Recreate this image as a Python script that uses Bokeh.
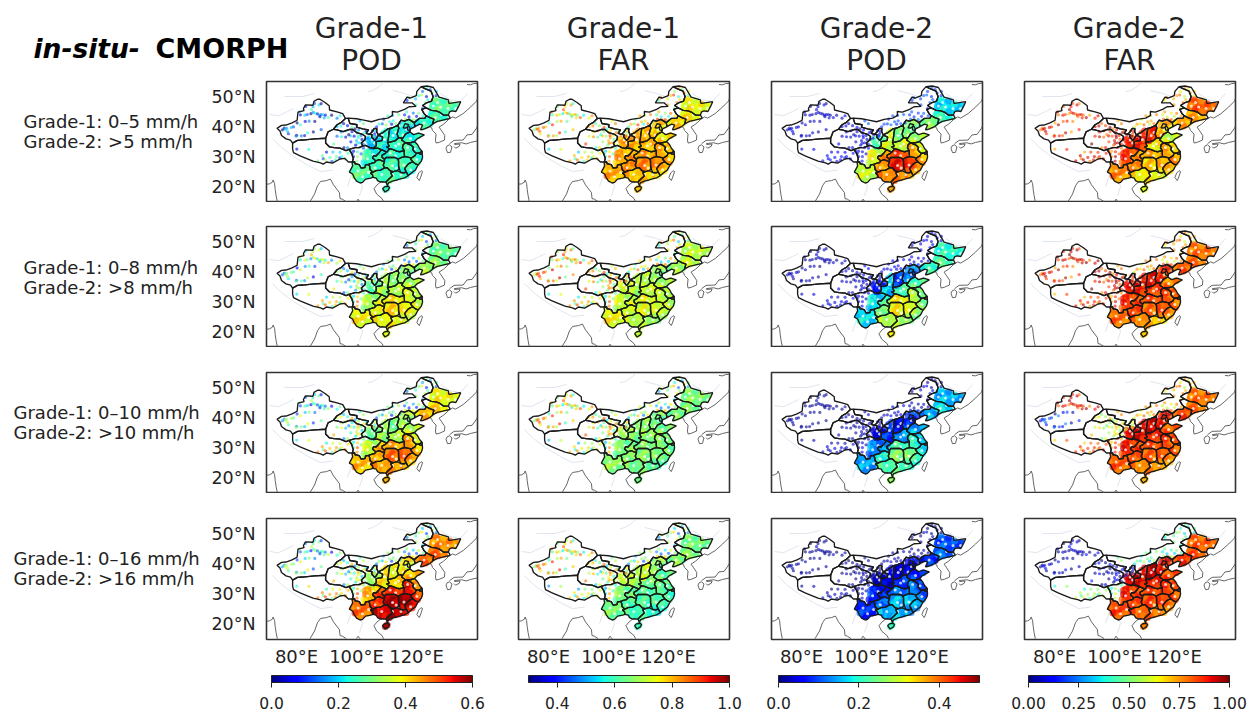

import numpy as np
from bokeh.plotting import figure
from bokeh.layouts import column, row
from bokeh.models import (ColumnDataSource, LinearColorMapper, ColorBar, FixedTicker,
                          Label, Range1d)
from bokeh.embed import file_html
from bokeh.resources import INLINE

# ------------------------------------------------------------ province outlines (lon, lat)
XINJIANG = [(73.5,39.4),(75,40.4),(76.5,40.5),(78.5,41.2),(80.2,42.1),(80.3,43.0),(80.5,44.8),(82.5,45.3),(82.3,46.0),(83,47.2),(85.5,47.1),(85.8,48.4),(87.0,49.1),(87.8,49.1),(89.5,48.0),(90.9,46.9),(91,45.5),(93.5,44.9),(95.4,44.3),(96.3,42.7),(94.8,41.3),(93.5,40.6),(92.3,39.1),(90.5,38.2),(89.7,36.1),(86,35.9),(82,35.5),(80.3,35.4),(78.7,34.5),(78.0,35.5),(76.5,35.9),(75,37.0),(74.5,38.5)]
TIBET = [(78.7,34.5),(80.3,35.4),(82,35.5),(86,35.9),(89.7,36.1),(89.7,34.5),(91,33.2),(92.5,33),(94.5,32.8),(96.5,32),(97.5,32.4),(98.4,31),(98.9,29.3),(98.6,28.2),(97.3,28.2),(96,29.4),(94.5,29.2),(92,27.8),(90,28.2),(88.9,27.5),(88,27.9),(85.5,28.5),(83,29.5),(81,30.3),(79,31.3),(78.7,32.5)]
QINGHAI = [(89.7,36.1),(90.5,38.2),(92.3,39.1),(93.5,38.9),(95.5,38.3),(97.5,39.0),(98.8,39.0),(100,38.0),(101.8,37.5),(103,36.7),(102.8,35.6),(101.6,34.5),(102,33.5),(100.8,33),(99.5,33),(97.5,32.4),(96.5,32),(94.5,32.8),(92.5,33),(91,33.2),(89.7,34.5)]
GANSU = [(92.3,39.1),(93.5,40.6),(94.8,41.3),(96.3,42.7),(97.2,42.8),(97.8,41.0),(100.2,40.6),(100,39.8),(102,39.2),(104,38.9),(103.2,37.7),(104.3,37.4),(105.2,37.3),(105,36.6),(106,35.4),(106.4,35.7),(107.3,37.1),(108.7,36.5),(108.5,35.3),(106.5,35),(106.6,33.6),(105.5,32.7),(104.4,33),(103,33.7),(102,33.5),(101.6,34.5),(102.8,35.6),(103,36.7),(101.8,37.5),(100,38.0),(98.8,39.0),(97.5,39.0),(95.5,38.3),(93.5,38.9)]
NINGXIA = [(104.3,37.4),(105,38.0),(105.9,39.4),(106.8,39.3),(106.7,38.3),(107.3,37.1),(106.4,35.7),(106,35.4),(105,36.6),(105.2,37.3)]
NEIMENG = [(97.2,42.8),(100,42.6),(102,42.2),(105,41.6),(107.5,42.4),(110.4,42.8),(112,43.7),(111.9,45),(113.6,44.8),(116,45.7),(117.5,46.6),(119.8,46.7),(118.5,47.9),(115.6,47.9),(116.8,49.8),(117.8,49.5),(119.9,50.3),(120.1,51.7),(121.5,53.3),(122.8,52.6),(124.8,51.8),(125.5,50),(125,48.5),(123.5,48),(122,47),(123.2,46.2),(121.7,45.7),(122.5,44.3),(123.2,43.6),(122.8,42.8),(120.9,42.7),(119.2,41.3),(117.4,42.4),(116,41.8),(114.8,42.1),(114,40.8),(113.8,40.5),(112,39.6),(111.1,39.4),(110.4,39.2),(108.8,38),(107.7,37.5),(107.3,37.1),(106.7,38.3),(106.8,39.3),(105.9,39.4),(105,38.0),(104.3,37.4),(103.2,37.7),(104,38.9),(102,39.2),(100,39.8),(100.2,40.6),(97.8,41.0)]
HEILONG = [(121.5,53.3),(123.5,53.5),(125.6,53),(127.5,49.8),(130.6,48.9),(130.7,47.9),(131,47.7),(134.7,48.3),(134,46.7),(133.1,45),(131.8,45.2),(131,44.9),(130.6,43.8),(129,43.8),(127.8,44.7),(126.5,45.2),(124.9,45.4),(123.2,46.2),(122,47),(123.5,48),(125,48.5),(125.5,50),(124.8,51.8),(122.8,52.6)]
JILIN = [(121.7,45.7),(123.2,46.2),(124.9,45.4),(126.5,45.2),(127.8,44.7),(129,43.8),(130.6,43.8),(131.2,42.9),(130.5,42.5),(129.7,42.4),(128.1,42),(126.9,41.7),(125.3,40.8),(125.8,42.5),(124.4,43),(123.2,43.6),(122.5,44.3)]
LIAONING = [(119.2,41.3),(120.9,42.7),(122.8,42.8),(123.2,43.6),(124.4,43),(125.8,42.5),(125.3,40.8),(124.4,40),(122,39),(121.3,38.9),(122,40.5),(121,40.8),(119.5,40)]
HEBEI = [(119.5,40),(119.2,41.3),(117.4,42.4),(116,41.8),(114.8,42.1),(114,40.8),(113.8,40.5),(114.1,39.5),(113.5,37.5),(114,36.3),(115.4,36.1),(116.3,37.5),(117.8,38.2),(118,39.2)]
BEIJING = [(115.5,39.6),(116.2,41),(117.4,40.6),(116.8,39.7),(116.2,39.5)]
TIANJIN = [(117.3,40.2),(117.8,39.5),(117.8,38.6),(117,38.9),(116.9,39.7)]
SHANXI = [(111.1,39.4),(112,39.6),(113.8,40.5),(114.1,39.5),(113.5,37.5),(114,36.3),(112.8,35.2),(110.3,34.6),(110.6,36),(110.8,37.8)]
SHAANXI = [(110.4,39.2),(111.1,39.4),(110.8,37.8),(110.6,36),(110.3,34.6),(110.9,33.5),(110,33.2),(111,32.6),(110.1,31.5),(108.3,32.3),(107,32.8),(105.5,32.7),(106.6,33.6),(106.5,35),(108.5,35.3),(108.7,36.5),(107.3,37.1),(107.7,37.5),(108.8,38)]
SHANDONG = [(115.4,36.1),(116.3,37.5),(117.8,38.2),(119,37.3),(120.7,37.8),(122.6,37.2),(120.3,36),(119.3,35),(118,34.6),(116.3,34.6),(115,35.5)]
HENAN = [(110.3,34.6),(112.8,35.2),(114,36.3),(115.4,36.1),(115,35.5),(116.3,34.6),(115.5,33.9),(115.3,32.9),(115.9,32),(114.3,31.6),(113.4,31.8),(112,32.4),(111,32.6),(110,33.2),(110.9,33.5)]
JIANGSU = [(116.3,34.6),(118,34.6),(119.3,35),(120.3,34),(121,32.7),(121.9,31.7),(120.9,31.2),(119.9,31.1),(119.3,31.6),(118.7,32.3),(119,33),(118.2,33.8),(117.1,34.2)]
SHANGHAI = [(121.9,31.7),(121.9,30.9),(121,30.8),(120.9,31.2)]
ANHUI = [(116.3,34.6),(117.1,34.2),(118.2,33.8),(119,33),(118.7,32.3),(119.3,31.6),(119.9,31.1),(119.5,30.3),(118.3,29.5),(117.1,29.8),(116,30),(115.9,31),(115.9,32),(115.3,32.9),(115.5,33.9)]
ZHEJIANG = [(120.9,31.2),(121,30.8),(121.9,30.9),(122,29.8),(121.6,28.5),(120.5,27.2),(119.6,27.6),(118.8,28.2),(118,29.2),(118.3,29.5),(119.5,30.3),(119.9,31.1)]
FUJIAN = [(120.5,27.2),(119.6,25.5),(118.1,24.4),(117.2,23.6),(116.6,24.8),(116,26),(117.2,27.5),(118,28),(118.8,28.2),(119.6,27.6)]
JIANGXI = [(116,30),(117.1,29.8),(118.3,29.5),(118,29.2),(118.8,28.2),(118,28),(117.2,27.5),(116,26),(116.6,24.8),(115.8,24.6),(114.7,24.7),(114.2,26),(114,27),(114,28.5),(113.8,29.1),(115,29.7)]
HUBEI = [(110.1,31.5),(111,32.6),(112,32.4),(113.4,31.8),(114.3,31.6),(115.9,32),(115.9,31),(116,30),(115,29.7),(113.8,29.1),(112.9,29.7),(111.5,29.7),(109.8,29.7),(109.3,29.1),(108.5,29.8),(108.5,30.5),(109.5,31)]
HUNAN = [(109.3,29.1),(109.8,29.7),(111.5,29.7),(112.9,29.7),(113.8,29.1),(114,28.5),(114,27),(114.2,26),(113.6,25.3),(112.2,25),(111.3,25.2),(110.2,26.3),(109.3,26.2),(108.9,27.2),(109.3,28.3)]
GUANGDONG = [(117.2,23.6),(116.6,24.8),(115.8,24.6),(114.7,24.7),(113.6,25.3),(112.2,25),(111.4,24.6),(111.9,23.5),(110.8,22.5),(109.8,21.5),(110.3,20.3),(110.6,21.2),(112,21.8),(113.5,22.2),(114.3,22.5),(116,22.9)]
GUANGXI = [(104.6,24.5),(105.5,24.8),(106.5,25.3),(108,25.5),(109.3,26.2),(110.2,26.3),(111.3,25.2),(112.2,25),(111.4,24.6),(111.9,23.5),(110.8,22.5),(109.8,21.5),(108.3,21.6),(108,21.5),(107,22),(106.6,22.8),(105.5,23.1),(105.3,24)]
HAINAN = [(108.7,19.3),(109.5,18.2),(110.6,18.9),(111,19.7),(110.5,20.1),(109.3,19.9)]
YUNNAN = [(98.6,28.2),(99.4,28.2),(99.5,27.6),(100.3,27.5),(101,27.2),(101.5,26.2),(102.8,26.3),(103,27.2),(104,27.4),(104.4,26.7),(104.5,25.7),(105.5,24.8),(104.6,24.5),(105.3,24),(105.5,23.1),(104.7,22.8),(103,22.5),(102,21.4),(101.2,21.2),(100,21.8),(99.2,23),(98.7,24.2),(97.6,24.8),(98.7,26.9),(98.5,28)]
GUIZHOU = [(104.5,25.7),(104.4,26.7),(104,27.4),(105.2,27.8),(106,28),(106.4,28.6),(107.5,29),(108.5,28.6),(109.3,28.3),(108.9,27.2),(109.3,26.2),(108,25.5),(106.5,25.3),(105.5,24.8)]
CHONGQING = [(105.3,29.5),(106.4,28.6),(107.5,29),(108.5,28.6),(109.3,28.3),(109.3,29.1),(108.5,29.8),(108.5,30.5),(109.5,31),(110.1,31.5),(108.3,32.3),(107.3,31),(106.5,30.2),(105.7,30.3)]
SICHUAN = [(97.5,32.4),(99.5,33),(100.8,33),(102,33.5),(103,33.7),(104.4,33),(105.5,32.7),(107,32.8),(108.3,32.3),(107.3,31),(106.5,30.2),(105.7,30.3),(105.3,29.5),(106.4,28.6),(106,28),(105.2,27.8),(104,27.4),(103,27.2),(102.8,26.3),(101.5,26.2),(101,27.2),(100.3,27.5),(99.5,27.6),(99.4,28.2),(98.6,28.2),(98.9,29.3),(98.4,31)]

# densely observed parts of provinces with sparse western or northern networks
SICHUAN_DENSE = [(102.6,32.2),(104.4,33),(105.5,32.7),(107,32.8),(108.3,32.3),(107.3,31),(106.5,30.2),(105.7,30.3),(105.3,29.5),(106.4,28.6),(106,28),(105.2,27.8),(104,27.4),(103,27.2),(102.8,26.3),(101.8,26.4),(102.4,28),(102.8,30)]
GANSU_DENSE = [(104,35.2),(104.5,36),(105,36.6),(106,35.4),(106.4,35.7),(106.8,36.2),(107.8,36.2),(108.5,35.3),(106.5,35),(106.6,33.6),(105.5,32.7),(104.4,33),(103.8,34)]
SHAANXI_DENSE = [(110.3,34.6),(110.9,33.5),(110,33.2),(111,32.6),(110.1,31.5),(108.3,32.3),(107,32.8),(105.5,32.7),(106.6,33.6),(106.5,35),(108.5,35.3),(108.7,36.5),(109.2,37.5),(110.6,36)]
HEBEI_DENSE = [(118.8,39.6),(117.8,40.8),(116.4,40.4),(115.4,40),(114.1,39.5),(113.5,37.5),(114,36.3),(115.4,36.1),(116.3,37.5),(117.8,38.2),(118,39.2)]
HEILONG_DENSE = [(124.7,48.8),(125.5,49.4),(127.2,49.4),(130.4,48.5),(130.7,47.9),(131,47.7),(134.2,48),(134,46.7),(133.1,45),(131.8,45.2),(131,44.9),(130.6,43.8),(129,43.8),(127.8,44.7),(126.5,45.2),(124.9,45.4),(124,46.3),(124.4,47.8)]
JILIN_DENSE = [(124.2,45.2),(124.9,45.4),(126.5,45.2),(127.8,44.7),(129,43.8),(130.3,43.6),(130.5,42.5),(129.7,42.4),(128.1,42),(126.9,41.7),(125.3,40.8),(125.8,42.5),(124.4,43),(123.8,44)]

REGIONS = ["Yunnan","Guizhou","Guangxi","Guangdong","Hainan","Fujian","Jiangxi","Hunan","Hubei","Chongqing",
           "Sichuan","Shaanxi","Henan","Anhui","Zhejiang","Jiangsu","Shandong","Hebei","Shanxi","Liaoning",
           "Jilin","Heilongjiang","Gansu"]
REGION_RINGS = [YUNNAN,GUIZHOU,GUANGXI,GUANGDONG,HAINAN,FUJIAN,JIANGXI,HUNAN,HUBEI,CHONGQING,
                SICHUAN_DENSE,SHAANXI_DENSE,HENAN,ANHUI,ZHEJIANG,JIANGSU,SHANDONG,HEBEI_DENSE,SHANXI,LIAONING,
                JILIN_DENSE,HEILONG_DENSE,GANSU_DENSE]
BORDERS = [XINJIANG,TIBET,QINGHAI,GANSU,NINGXIA,NEIMENG,HEILONG,JILIN,LIAONING,HEBEI,BEIJING,TIANJIN,SHANXI,SHAANXI,
           SHANDONG,HENAN,JIANGSU,SHANGHAI,ANHUI,ZHEJIANG,FUJIAN,JIANGXI,HUBEI,HUNAN,GUANGDONG,GUANGXI,HAINAN,
           YUNNAN,GUIZHOU,CHONGQING,SICHUAN]

# neighbouring coasts and borders
NEIGHBOURS = [
 [(124.4,40),(125,39.6),(125.3,38.7),(126.5,37.5),(126.3,35.5),(126.5,34.5),(127.7,34.8),(129.3,35.5),(129.4,37),(128.2,38.8),(127.5,39.8),(129,40.8),(129.8,41.5),(130.6,42.3)],
 [(130.6,42.3),(132,43.2),(133,42.8),(135.5,44.3),(138,46.5),(140,48.5),(140.3,49.5)],
 [(136.8,54),(138,53.9),(139,54.3),(140.3,54.4)],
 [(108,21.5),(106.8,20.5),(105.8,19.3),(106.7,17.5),(108.5,16),(109,15)],
 [(100,15),(100.5,15.8),(101.3,14.8)],
 [(70,20.8),(71,20.9),(72,21.5),(72.2,22.2),(72.7,21),(72.9,19),(73.2,17),(73.6,15)],
 [(84.5,15),(86,17.5),(87,20.3),(88,21.7),(90,22),(91.3,22.5),(92.3,20.6),(94.3,18),(94.5,16),(95.3,15.8),(96.5,15)],
 [(121.5,25.3),(122,25),(121.4,23.2),(120.9,22),(120.1,23),(120.7,24.5),(121.5,25.3)],
 [(130.2,33.6),(131,33.9),(131.8,33.2),(131.3,31.4),(130.3,31.3),(129.8,32.8),(130.2,33.6)],
 [(132.6,34),(134.5,34.2),(134.2,33.4),(133,32.8),(132.5,33.3)],
 [(131,34.3),(132.5,35.4),(135.5,35.5),(136.8,37.2),(138.5,37.4),(140,39.5),(140.3,40.2)],
 [(132.5,34.3),(135,34.6),(136.5,34.2),(138,34.7),(140.3,35.2)],
]
FAINT = [
 [(103.8,51.6),(105.5,52),(107.5,53.3),(109,54.6)],
 [(71,44),(74,43.6),(77,45),(79,46)],
 [(112,52),(116,51),(120,49.6)],
 [(72,36),(75,33),(79,30),(84,27),(88,25),(92,25.5)],
 [(128,51),(131,49),(134.5,48.3),(137,51)],
 [(97,20),(98,23),(99,26),(99.5,29)],
 [(101,17),(102,20),(101,23)],
 [(76,50),(82,50),(86,51)],
]

# ------------------------------------------------------------ stations outside the dense network
ST_XJ_N = [(86.0,47.7),(87.5,47.2),(88.2,47.6),(85.5,46.6),(83.0,46.7),(85.0,45.6),(84.8,44.3),(85.6,44.7),(86.3,44.4),(87.0,44.2),(87.6,43.8),(88.2,44.0),(88.9,44.0),(87.8,43.3),(89.2,42.9),(89.6,43.8),(90.6,43.0),(91.7,43.8),(93.5,42.8),(94.5,43.6),(81.3,43.9),(82.8,43.8),(83.6,44.0),(81.0,44.9)]
ST_XJ_S = [(86.1,41.7),(84.2,41.8),(82.9,41.7),(81.3,40.6),(80.2,41.2),(79.0,39.9),(77.0,38.4),(75.9,39.5),(76.7,39.4),(77.3,37.6),(78.3,39.7),(80.0,37.1),(81.6,36.9),(82.7,37.0),(83.7,37.9),(85.6,38.2),(88.2,39.0),(76.2,39.1),(75.3,38.9),(79.9,36.8)]
ST_QH_GS = [(93.5,36.8),(95.0,36.6),(96.4,36.5),(98.0,36.9),(99.2,36.8),(100.5,37.0),(97.4,37.3),(94.9,38.2),(96.5,38.6),(98.5,38.3),(100.2,38.0),(101.5,37.0),(100.6,36.3),(101.8,35.7),(100.0,35.3),(98.1,34.9),(92.4,34.2),(95.8,33.0),(97.0,33.0),(100.2,34.4),(99.7,33.8),(101.0,34.6),(102.3,34.1),(94.8,40.2),(95.7,41.0),(93.5,40.0),(97.0,40.3),(98.5,39.7),(99.5,39.2),(100.7,38.9),(102.6,38.0),(103.2,38.6),(102.9,35.8),(103.8,36.1),(104.1,37.2),(105.3,38.6),(106.2,38.4),(106.0,37.5),(105.7,36.8)]
ST_TIBET = [(80.1,32.5),(84.1,32.4),(87.1,28.6),(88.9,29.3),(91.1,29.7),(92.1,31.5),(93.3,30.0),(94.4,29.6),(97.2,31.1),(98.6,31),(89.6,28.9),(90.0,31.5),(95.0,30),(96.3,29.2),(91.8,28.4),(93.0,28.9),(94.5,31.4),(88.6,30.3),(99,30),(100.3,31.6),(101.5,30.9),(100.3,30),(99.0,31.8),(98,31.9),(100.2,28.5),(102.3,32.8),(101.0,33.0)]
ST_NORTH = [(101.1,41.9),(102.3,41),(106.7,39.9),(107.5,40.8),(108.6,40.9),(109.8,40.6),(111.7,40.8),(112.2,41.9),(113.1,41),(109,42.5),(110.4,43.6),(112,43.7),(114,44),(116,43.9),(116.7,44.9),(118.9,44.5),(118.9,42.3),(120,43.4),(122.2,43.6),(120.7,44.4),(122,46),(119.8,47.2),(119.7,49.2),(117.4,49.6),(116.8,48.7),(120.7,50.3),(122.0,51.7),(121.7,50.5),(123.3,50.0),(123.7,49),(122.8,48),(124.5,52.3),(123.4,52.9),(126.6,51.7),(125.2,51.2),(126.5,50.3),(111,41.6),(114.5,41.2),(116.3,42.5),(117.5,43.2)]
STATION_GROUPS = [ST_XJ_N, ST_XJ_S, ST_QH_GS, ST_TIBET, ST_NORTH]
STATION_OFFSETS = [0,.14,-.18,.08,-.1,.22,-.24,.04,.16,-.14,.1]
STATION_SPREAD = [1.0, 1.0, .15, .5]

# dense-network stations that stand out from their province, in REGIONS order
DENSE_STATIONS = [
 [(99.5,25),(100.5,24),(101.5,25.5),(102.5,24.5),(103.5,23.5),(103.3,25.5),(100.3,26),(101,22.5),(99.5,23.5)],
 [(105.5,26.5),(106.5,27.2),(107.5,26.5),(108.3,27.5),(106.7,25.9),(105.8,25.5)],
 [(107,23.5),(108.5,23),(110,24),(109.5,22.5),(106,24),(108,24.7)],
 [(112.5,23),(114,23.2),(115.5,23.8),(113.5,24.3),(111,22),(116.5,23.7)],
 [(109.6,19),(110.2,19.5)],
 [(117.5,25),(118.5,26),(119,26.7),(117.5,26.5),(118.5,25.2)],
 [(115,28),(116.5,28.5),(115,26.5),(115.5,25.3),(116.5,27),(117.5,29)],
 [(110.5,28.5),(112,28),(113,27),(111,27),(112.5,26),(111.5,26)],
 [(110.5,30.5),(112,31),(113.5,30.5),(115,30.7),(112,30.3),(114,31)],
 [(107,30),(106.5,29.2),(108,29.5),(108.5,31)],
 [(103,31),(104,30.5),(105,31.5),(106,31.5),(103.5,28.5),(104.5,29),(102.5,28),(103,29.8)],
 [(107.5,34.3),(109,34.5),(110,35.5),(109.5,36.8),(109,37.7),(107.5,33.2),(109.5,33),(110,38.5)],
 [(112,34),(113.5,34.7),(114.5,33.5),(113,33),(114.5,35.5),(115,32.5)],
 [(116.5,33.5),(117.5,32.7),(117,31.5),(118.5,31),(117.8,30.2),(116.5,30.8)],
 [(120,30),(119.5,29),(120.5,28.8),(120.3,28),(121,29.5)],
 [(117.5,34.5),(119,34),(119.7,33),(120,32.2),(120.5,31.6)],
 [(116.5,36.5),(118,36.5),(117.5,35.3),(119,36),(120.5,36.9),(116.8,37.5)],
 [(114.5,37),(115,38.5),(116,38),(117,39),(115.5,40.5),(116.5,41),(118.5,40.5),(117.8,41.5)],
 [(112,36),(112.5,37.5),(111.5,38.5),(112.8,39),(113,36.5),(111.5,35.3)],
 [(120.5,41.5),(122,41.8),(123.5,41.5),(124.5,41),(123,40.2)],
 [(125,44),(126.5,43.5),(128,43),(127,42.5),(129,43),(125.5,43)],
 [(126,47),(128,47),(130,46.5),(132,46.5),(127,45.8),(129,45),(126.5,49),(129,48.5),(131,47.5)],
 [(104.5,34.5),(105.5,34),(106,36),(107.5,36),(104,35.7),(105,33.3)],
]
DENSE_OFFSETS = [-.05,.06,-.02,.07,-.06,.03,.01,-.04,.08,-.03,.05]
GAPS = [(100.5,25.2),(102,23.3),(104,24.7),(106.2,26.3),(108.4,24),(112,24),(114.8,24),(118,25.6),(115.8,27.2),(112,27),(113.2,26.2),
        (111.2,31.2),(113,30.3),(105.5,30.7),(103.7,29.3),(109.3,35.7),(108.6,37.3),(112.2,37),(113.1,38),(115.5,37.2),(116.6,39),(118,36),
        (114,34.2),(113,33.5),(117,33),(119.5,32.6),(120.1,29),(122.5,41.2),(126.2,43),(128.3,44),(128,46.5),(130.5,46),(127,48),(125.6,46.8),(133,46),(106,34.5),(105.2,35.5)]

# ------------------------------------------------------------ colour-bar ranges and tick labels
RANGES = [(0.0, 0.6), (0.3, 1.0), (0.0, 0.5), (0.0, 1.0)]
BAR_TICKS = [[0.0, 0.2, 0.4, 0.6], [0.4, 0.6, 0.8, 1.0], [0.0, 0.2, 0.4], [0.0, 0.25, 0.5, 0.75, 1.0]]
BAR_LABELS = [["0.0","0.2","0.4","0.6"],["0.4","0.6","0.8","1.0"],["0.0","0.2","0.4"],["0.00","0.25","0.50","0.75","1.00"]]
LON_TICKS = [80, 100, 120]
LAT_TICKS = [20, 30, 40, 50]
COL_TITLES = [("Grade-1", "POD"), ("Grade-1", "FAR"), ("Grade-2", "POD"), ("Grade-2", "FAR")]
ROW_LABELS = [("Grade-1: 0\u20135 mm/h", "Grade-2: >5 mm/h"), ("Grade-1: 0\u20138 mm/h", "Grade-2: >8 mm/h"),
              ("Grade-1: 0\u201310 mm/h", "Grade-2: >10 mm/h"), ("Grade-1: 0\u201316 mm/h", "Grade-2: >16 mm/h")]

# ------------------------------------------------------------ values per panel, in REGIONS order
R1_G1_POD = [.27,.25,.26,.26,.24,.25,.25,.25,.25,.25,.24,.23,.25,.25,.25,.24,.23,.22,.22,.24,.25,.27,.19]
R1_G1_FAR = [.80,.82,.79,.78,.78,.80,.82,.83,.82,.82,.80,.80,.79,.80,.80,.78,.76,.77,.79,.77,.75,.74,.82]
R1_G2_POD = [.29,.36,.38,.38,.36,.38,.42,.44,.42,.38,.30,.30,.30,.36,.36,.30,.27,.24,.24,.25,.20,.17,.22]
R1_G2_FAR = [.75,.75,.65,.64,.60,.72,.70,.68,.73,.75,.83,.85,.65,.72,.75,.66,.58,.70,.85,.72,.72,.80,.88]
R2_G1_POD = [.38,.37,.38,.38,.36,.37,.38,.40,.40,.37,.32,.33,.34,.36,.36,.34,.33,.30,.30,.32,.30,.28,.27]
R2_G1_FAR = [.74,.71,.70,.68,.70,.70,.71,.72,.74,.72,.70,.69,.71,.70,.70,.69,.68,.66,.69,.67,.70,.70,.72]
R2_G2_POD = [.17,.24,.28,.27,.32,.26,.30,.32,.33,.22,.17,.16,.22,.28,.25,.24,.22,.12,.09,.20,.22,.20,.07]
R2_G2_FAR = [.78,.82,.76,.70,.68,.76,.80,.78,.83,.83,.84,.87,.83,.81,.78,.80,.76,.85,.89,.80,.78,.78,.90]
R3_G1_POD = [.42,.42,.44,.44,.42,.44,.47,.47,.44,.43,.34,.32,.34,.44,.42,.36,.34,.32,.28,.42,.40,.38,.28]
R3_G1_FAR = [.66,.65,.64,.63,.63,.63,.64,.65,.66,.66,.64,.65,.66,.65,.64,.64,.64,.63,.66,.64,.64,.65,.68]
R3_G2_POD = [.14,.19,.22,.22,.26,.21,.24,.25,.22,.14,.12,.09,.14,.20,.18,.16,.14,.08,.05,.14,.17,.15,.04]
R3_G2_FAR = [.80,.80,.76,.75,.70,.75,.79,.79,.83,.84,.86,.90,.86,.82,.80,.82,.80,.88,.91,.82,.78,.78,.91]
R4_G1_POD = [.47,.50,.55,.57,.56,.55,.57,.57,.52,.50,.42,.40,.41,.53,.50,.44,.42,.38,.37,.47,.47,.45,.32]
R4_G1_FAR = [.64,.60,.60,.59,.58,.60,.60,.60,.62,.64,.64,.68,.64,.62,.60,.62,.62,.66,.71,.65,.65,.64,.71]
R4_G2_POD = [.08,.11,.15,.15,.20,.15,.15,.15,.12,.08,.07,.04,.09,.12,.11,.09,.08,.04,.03,.08,.11,.10,.02]
R4_G2_FAR = [.82,.82,.80,.78,.76,.78,.82,.82,.84,.83,.85,.90,.87,.83,.81,.82,.82,.88,.93,.84,.81,.80,.93]
PANEL_VALUES = [[R1_G1_POD,R1_G1_FAR,R1_G2_POD,R1_G2_FAR],[R2_G1_POD,R2_G1_FAR,R2_G2_POD,R2_G2_FAR],
                [R3_G1_POD,R3_G1_FAR,R3_G2_POD,R3_G2_FAR],[R4_G1_POD,R4_G1_FAR,R4_G2_POD,R4_G2_FAR]]

# station values per group: N Xinjiang, S Xinjiang, Qinghai-Gansu, Tibet-W Sichuan, north
R1_ST = [[.13,.10,.14,.20,.20],[.72,.76,.74,.70,.74],[.03,.03,.04,.06,.10],[.85,.85,.88,.85,.70]]
R2_ST = [[.30,.22,.26,.35,.26],[.76,.80,.74,.72,.70],[.02,.02,.03,.04,.05],[.90,.85,.88,.82,.72]]
R3_ST = [[.20,.25,.30,.36,.24],[.72,.76,.72,.68,.64],[.01,.01,.02,.03,.03],[.88,.15,.60,.80,.70]]
R4_ST = [[.22,.26,.30,.38,.26],[.72,.76,.70,.66,.62],[.01,.01,.01,.02,.02],[.03,.03,.05,.50,.45]]
STATION_VALUES = [R1_ST, R2_ST, R3_ST, R4_ST]

# ------------------------------------------------------------ layout (pixels)
FONT = "DejaVu Sans"
def jet(n=256):
    t = np.linspace(0, 1, n)
    r = np.interp(t, [0, .35, .66, .89, 1], [0, 0, 1, 1, .5])
    g = np.interp(t, [0, .125, .375, .64, .91, 1], [0, 0, 1, 1, 0, 0])
    b = np.interp(t, [0, .11, .34, .65, 1], [.5, 1, 1, 0, 0])
    return ["#%02x%02x%02x" % (int(a*255), int(c*255), int(d*255)) for a, c, d in zip(r, g, b)]
JET = jet()

TOP_BAND = 79
LABEL_W = 204
FRAME_W, FRAME_H = 211, 121
LEFT = [62, 25, 26, 26]
RIGHT = 16
TOP = [2, 24, 25, 25]
BOTTOM = [0, 0, 0, 30]
BAR_ROW_H = 43
LON0, LON1, LAT0, LAT1 = 70.0, 140.3, 14.7, 55.0
FRAME_X = [266, 518, 771, 1024]
BAR_OFFSET = [67, 35, 33, 30]
PAGE_W = 1251
GRID_H = sum(TOP) + 4*FRAME_H + sum(BOTTOM) + BAR_ROW_H

def ring_xy(r):
    return [a for a, _ in r], [b for _, b in r]

def text_band(w, h, y0):
    b = figure(width=w, height=h, x_range=Range1d(0, w), y_range=Range1d(y0+h, y0),
               x_axis_location=None, y_axis_location=None, output_backend="svg", toolbar_location=None,
               min_border=0, outline_line_color=None)
    b.grid.visible = False
    return b

def add_text(b, px, py, text, size, align="left", style="normal", color="#222222"):
    b.add_layout(Label(x=px, y=py, text=text, text_font=FONT, text_font_size=f"{size}px",
                       text_font_style=style, text_align=align, text_baseline="middle", text_color=color))

top = text_band(PAGE_W, TOP_BAND, 0)
add_text(top, 33, 48, "in-situ-", 26.5, style="bold italic", color="#000000")
add_text(top, 155, 48, "CMORPH", 27, style="bold", color="#000000")
for c in range(4):
    add_text(top, FRAME_X[c]+105, 28, COL_TITLES[c][0], 28, "center")
    add_text(top, FRAME_X[c]+105, 60, COL_TITLES[c][1], 28, "center")

side = text_band(LABEL_W, GRID_H, TOP_BAND)
for r, yc in enumerate([131, 276.5, 422, 568]):
    lx = 23 if r < 2 else 13
    add_text(side, lx, yc-10, ROW_LABELS[r][0], 18)
    add_text(side, lx, yc+10, ROW_LABELS[r][1], 18)

rows = []
for r in range(4):
    figs = []
    for c in range(4):
        p = figure(width=LEFT[c]+FRAME_W+RIGHT, height=TOP[r]+FRAME_H+BOTTOM[r],
                   x_range=Range1d(LON0, LON1), y_range=Range1d(LAT0, LAT1),
                   output_backend="svg", toolbar_location=None,
                   min_border_left=LEFT[c], min_border_right=RIGHT,
                   min_border_top=TOP[r], min_border_bottom=BOTTOM[r],
                   outline_line_color="#333333", outline_line_width=1.6)
        p.grid.visible = False
        lo, hi = RANGES[c]
        mapper = LinearColorMapper(palette=JET, low=lo, high=hi)
        vals = PANEL_VALUES[r][c]

        p.multi_line([ring_xy(x)[0] for x in FAINT], [ring_xy(x)[1] for x in FAINT],
                     line_color="#dfe5ef", line_width=1)

        src = ColumnDataSource(dict(xs=[ring_xy(x)[0] for x in REGION_RINGS],
                                    ys=[ring_xy(x)[1] for x in REGION_RINGS],
                                    value=vals))
        p.patches("xs", "ys", source=src, line_color=None,
                  fill_color={"field": "value", "transform": mapper})

        dx, dy, dv = [], [], []
        k = 0
        for g, pts in enumerate(DENSE_STATIONS):
            for a, b in pts:
                dx.append(a); dy.append(b)
                dv.append(vals[g] + DENSE_OFFSETS[k % len(DENSE_OFFSETS)]*(hi-lo))
                k += 1
        p.scatter("x", "y", source=ColumnDataSource(dict(x=dx, y=dy, value=dv)), size=7, line_color=None,
                  fill_alpha=0.7, fill_color={"field": "value", "transform": mapper})
        p.scatter([a for a, _ in GAPS], [b for _, b in GAPS], size=3, line_color=None,
                  fill_color="white", fill_alpha=0.75)

        sx, sy, sv = [], [], []
        k = 0
        for g, pts in enumerate(STATION_GROUPS):
            for a, b in pts:
                sx.append(a); sy.append(b)
                sv.append(STATION_VALUES[r][c][g] + STATION_OFFSETS[k % len(STATION_OFFSETS)]*STATION_SPREAD[c]*(hi-lo))
                k += 1
        p.scatter("x", "y", source=ColumnDataSource(dict(x=sx, y=sy, value=sv)), size=3.2, line_color=None,
                  fill_alpha=0.6, fill_color={"field": "value", "transform": mapper})

        p.multi_line([ring_xy(x)[0] for x in NEIGHBOURS], [ring_xy(x)[1] for x in NEIGHBOURS],
                     line_color="#555555", line_width=0.9)
        p.patches([ring_xy(x)[0] for x in BORDERS], [ring_xy(x)[1] for x in BORDERS],
                  fill_color=None, line_color="#1a1a1a", line_width=1.35)

        p.xaxis.ticker = FixedTicker(ticks=LON_TICKS)
        p.yaxis.ticker = FixedTicker(ticks=LAT_TICKS)
        p.xaxis.major_label_overrides = {v: f"{v}\u00b0E" for v in LON_TICKS}
        p.yaxis.major_label_overrides = {v: f"{v}\u00b0N" for v in LAT_TICKS}
        for ax, fs in ((p.xaxis, "18px"), (p.yaxis, "17.5px")):
            ax.major_tick_line_color = None
            ax.minor_tick_line_color = None
            ax.axis_line_color = None
            ax.major_label_text_font = FONT
            ax.major_label_text_font_size = fs
            ax.major_label_text_color = "#222222"
        p.yaxis.major_label_standoff = 5
        p.xaxis.major_label_standoff = 0
        p.xaxis.visible = (r == 3)
        p.yaxis.visible = (c == 0)
        figs.append(p)
    rows.append(row(*figs, spacing=0))

bars = []
for c in range(4):
    b = text_band(LEFT[c]+FRAME_W+RIGHT, BAR_ROW_H, 0)
    mapper = LinearColorMapper(palette=JET, low=RANGES[c][0], high=RANGES[c][1])
    bar = ColorBar(color_mapper=mapper, ticker=FixedTicker(ticks=BAR_TICKS[c]),
                   major_label_overrides=dict(zip(BAR_TICKS[c], BAR_LABELS[c])),
                   width=201, height=7, location=(BAR_OFFSET[c], 1), padding=0, margin=0,
                   major_tick_in=0, major_tick_out=5, minor_tick_line_color=None,
                   major_tick_line_color="#222222", bar_line_color="#222222",
                   major_label_text_font=FONT, major_label_text_font_size="15.5px",
                   major_label_text_color="#222222", label_standoff=9,
                   orientation="horizontal", background_fill_color=None)
    b.add_layout(bar)
    bars.append(b)
rows.append(row(*bars, spacing=0))

page = column(top, row(side, column(*rows, spacing=0), spacing=0), spacing=0)
open("out.html", "w").write(file_html(page, INLINE))
